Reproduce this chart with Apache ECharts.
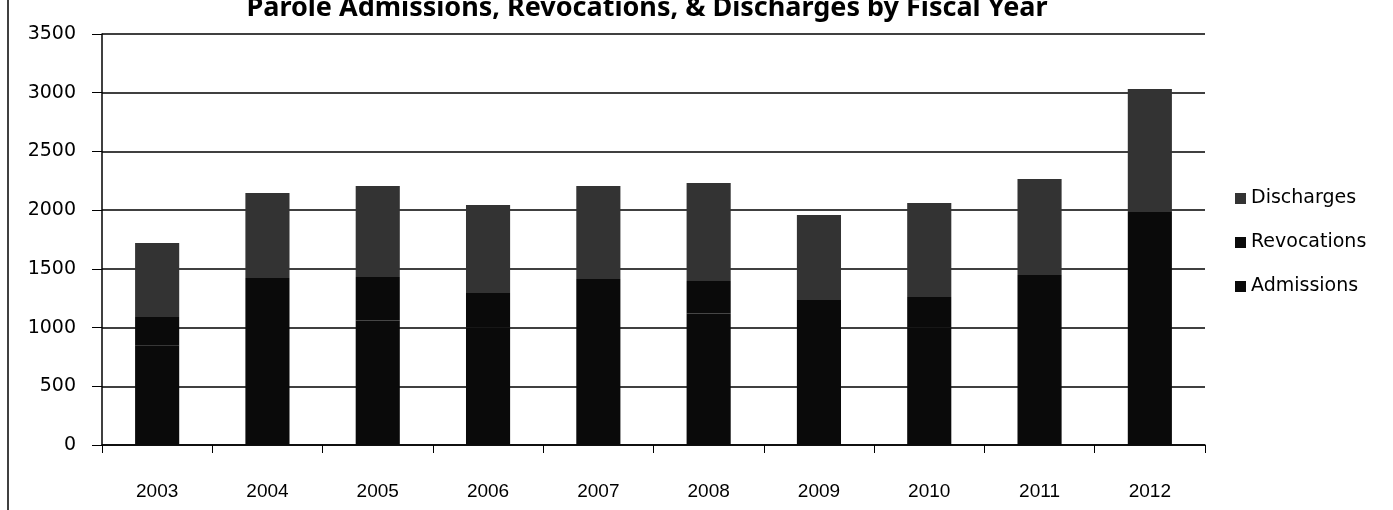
<!DOCTYPE html>
<html>
<head>
<meta charset="utf-8">
<script src="https://cdn.jsdelivr.net/npm/echarts@6/dist/echarts.min.js"></script>
<style>html,body{margin:0;padding:0;background:#fff}#c{width:1393px;height:510px}</style>
</head>
<body>
<div id="c"></div>
<script>
var years = ['2003','2004','2005','2006','2007','2008','2009','2010','2011','2012'];
var admissions  = [850, 1133, 1060, 1000, 1158, 1120, 980, 1000, 1150, 1618];
var revocations = [240, 289, 370, 295, 256, 277, 255, 261, 298, 367];
var discharges  = [630, 724, 775, 749, 792, 835, 724, 800, 818, 1047];
var yTicks = [0, 500, 1000, 1500, 2000, 2500, 3000, 3500];

var chart = echarts.init(document.getElementById('c'));
function bar(name, data, color) {
  return {
    name: name, type: 'bar', stack: 'total', data: data, barWidth: '40%',
    itemStyle: { color: color }
  };
}
chart.setOption({
  animation: false,
  title: {
    text: 'Parole Admissions, Revocations, & Discharges by Fiscal Year',
    left: 642, textAlign: 'center', top: -10,
    textStyle: { fontFamily: 'Noto Sans', fontWeight: 'bold', fontSize: 27, color: '#000' }
  },
  grid: { left: 102, right: 188, top: 34, bottom: 65 },
  legend: {
    orient: 'vertical', left: 1230, top: 184, itemGap: 25,
    itemWidth: 11, itemHeight: 11, icon: 'rect',
    data: ['Discharges', 'Revocations', 'Admissions'],
    textStyle: { fontFamily: 'DejaVu Sans', fontSize: 19, color: '#000' }
  },
  xAxis: {
    type: 'category', data: years,
    axisLine: { lineStyle: { color: '#000', width: 1.5 } },
    axisTick: { show: true, length: 8, lineStyle: { color: '#000' } },
    axisLabel: { margin: 37, fontFamily: 'Liberation Sans', fontSize: 19, color: '#000' }
  },
  yAxis: {
    type: 'value', min: yTicks[0], max: yTicks[yTicks.length - 1], interval: 500,
    axisLine: { show: true, lineStyle: { color: '#000', width: 1.5 } },
    axisTick: { show: true, length: 10, lineStyle: { color: '#000' } },
    splitLine: { lineStyle: { color: '#000', width: 1.5 } },
    axisLabel: { margin: 26, fontFamily: 'DejaVu Sans', fontSize: 19, color: '#000',
      formatter: function (v) { return String(v); } }
  },
  graphic: [{
    type: 'line', shape: { x1: 8, y1: 0, x2: 8, y2: 510 },
    style: { stroke: '#000', lineWidth: 1.5 }
  }],
  series: [
    bar('Admissions', admissions, '#0a0a0a'),
    bar('Revocations', revocations, '#0a0a0a'),
    bar('Discharges', discharges, '#333333')
  ]
});
</script>
</body>
</html>
